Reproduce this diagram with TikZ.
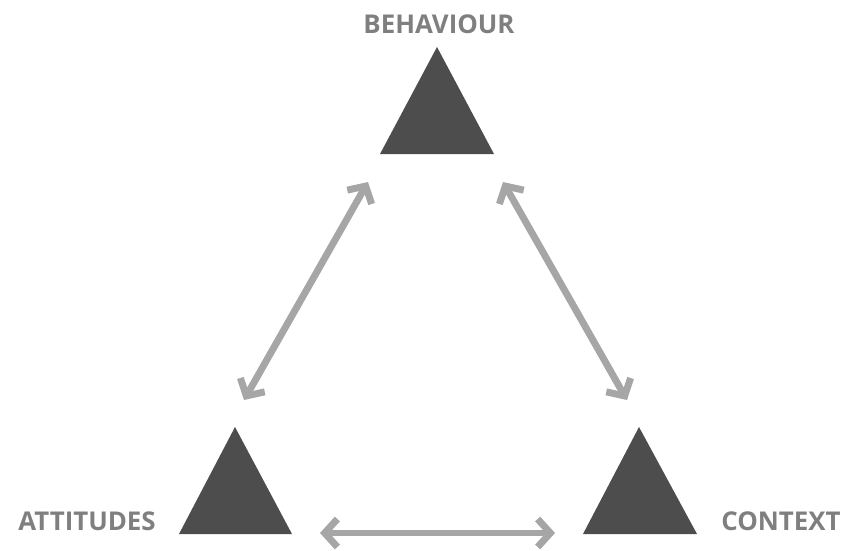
\documentclass[tikz,border=0pt]{standalone}
\usepackage{fontspec}
\setmainfont{Open Sans}
\usetikzlibrary{arrows.meta}
\definecolor{tri}{HTML}{4D4D4D}
\definecolor{arr}{HTML}{A6A6A6}
\definecolor{lbl}{HTML}{7F7F7F}
\begin{document}
\begin{tikzpicture}[x=0.75pt,y=-0.75pt,
  trishape/.style={fill=tri},
  lbltext/.style={text=lbl,font=\bfseries\fontsize{19.4}{21}\selectfont,inner sep=0pt},
  link/.style={draw=arr,line width=5.2pt,{Straight Barb[length=9.5pt,width=21pt]}-{Straight Barb[length=9.5pt,width=21pt]}}]
\useasboundingbox (0,0) rectangle (845,550);
% triangles
\fill[trishape] (437,47) -- (494,154) -- (380,154) -- cycle;
\fill[trishape] (235,427) -- (292,534) -- (179,534) -- cycle;
\fill[trishape] (639,427) -- (697,534) -- (583,534) -- cycle;
\coordinate (beh) at (437,117);
\coordinate (att) at (235,497);
\coordinate (con) at (639,497);
% labels
\node[lbltext] (lbeh) at (439,24) {BEHAVIOUR};
\node[lbltext] (latt) at (87,521) {ATTITUDES};
\node[lbltext] (lcon) at (781,521) {CONTEXT};
% arrow ends
\coordinate (b1) at (368,182);
\coordinate (a1) at (244,400);
\coordinate (b2) at (503,182);
\coordinate (c2) at (627,400);
\coordinate (a3) at (320,533);
\coordinate (c3) at (555,533);
\draw[link] (a1) -- (b1);
\draw[link] (b2) -- (c2);
\draw[link] (a3) -- (c3);
\end{tikzpicture}
\end{document}
